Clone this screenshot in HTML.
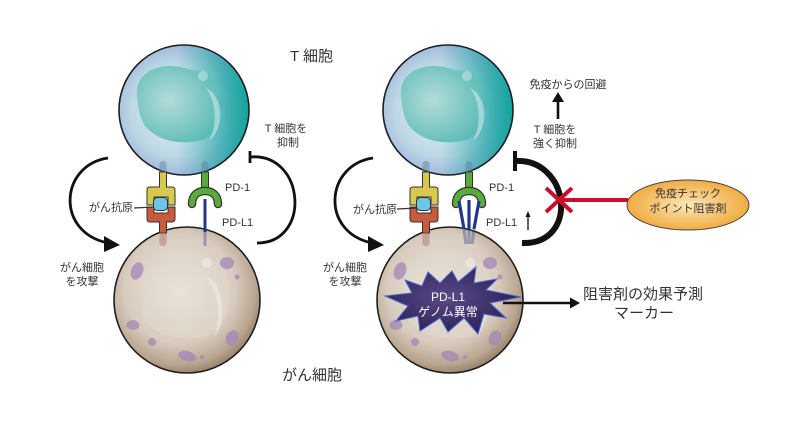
<!DOCTYPE html>
<html><head><meta charset="utf-8">
<style>
html,body{margin:0;padding:0;background:#fff;}
svg{display:block;}
text{font-family:"Liberation Sans","Noto Sans CJK JP",sans-serif;fill:#333;}
</style></head>
<body>
<svg width="800" height="432" viewBox="0 0 800 432" xmlns="http://www.w3.org/2000/svg">
<defs>
  <radialGradient id="tg" cx="45%" cy="50%" r="60%">
    <stop offset="0" stop-color="#e4f2f4"/>
    <stop offset="0.6" stop-color="#bcd7e5"/>
    <stop offset="1" stop-color="#8ea6d6"/>
  </radialGradient>
  <linearGradient id="tteal" x1="0" y1="0" x2="1" y2="0">
    <stop offset="0.45" stop-color="#0aa39b" stop-opacity="0"/>
    <stop offset="1" stop-color="#0aa39b" stop-opacity="0.95"/>
  </linearGradient>
  <radialGradient id="ng" cx="40%" cy="45%" r="65%">
    <stop offset="0" stop-color="#b4dcd9"/>
    <stop offset="1" stop-color="#5bbbb5"/>
  </radialGradient>
  <radialGradient id="cg" cx="45%" cy="42%" r="58%">
    <stop offset="0" stop-color="#ece6dd"/>
    <stop offset="0.65" stop-color="#d8ccbf"/>
    <stop offset="0.9" stop-color="#b9a590"/>
    <stop offset="1" stop-color="#9e8872"/>
  </radialGradient>
  <radialGradient id="cin" cx="45%" cy="45%" r="60%">
    <stop offset="0" stop-color="#e8e2d9"/>
    <stop offset="1" stop-color="#ddd3c7"/>
  </radialGradient>
  <radialGradient id="eg" cx="50%" cy="50%" r="55%">
    <stop offset="0" stop-color="#fde8b8"/>
    <stop offset="1" stop-color="#efa635"/>
  </radialGradient>
  <radialGradient id="sg" cx="45%" cy="45%" r="55%">
    <stop offset="0" stop-color="#5a4a88"/>
    <stop offset="1" stop-color="#2e2258"/>
  </radialGradient>

  <g id="tcell">
    <circle cx="184" cy="110" r="65" fill="url(#tg)"/>
    <circle cx="184" cy="110" r="65" fill="url(#tteal)"/>
    <path d="M137,96 C135,76 152,66 170,66 C184,66 190,71 200,71 C213,71 219,86 218,102 C217,120 221,136 198,141 C178,145 158,140 147,128 C139,119 138,106 137,96 Z" fill="url(#ng)"/>
    <path d="M206,88 C223,96 226,126 209,141 C217,125 217,103 206,88 Z" fill="#fff" opacity="0.4"/>
    <circle cx="203" cy="76" r="5" fill="#fff" opacity="0.35"/>
    <circle cx="184" cy="110" r="65" fill="none" stroke="#1e1e1e" stroke-width="1.6"/>
  </g>

  <g id="ccell">
    <circle cx="187" cy="300" r="73" fill="url(#cg)"/>
    <path d="M140,285 C140,262 165,252 190,255 C210,257 225,262 228,280 C232,300 228,330 205,337 C180,342 150,335 142,315 Z" fill="url(#cin)" opacity="0.85"/>
    <path d="M207,277 C224,285 228,320 214,338 C220,318 220,295 207,277 Z" fill="#fff" opacity="0.35"/>
    <circle cx="207" cy="263" r="5" fill="#fff" opacity="0.35"/>
    <g fill="#a487b7" opacity="0.75">
      <ellipse cx="137" cy="271" rx="6" ry="9" transform="rotate(20 137 271)"/>
      <ellipse cx="227" cy="263" rx="7" ry="6"/>
      <circle cx="237" cy="277" r="2.5"/>
      <ellipse cx="133" cy="325" rx="6.5" ry="5"/>
      <circle cx="152" cy="342" r="4"/>
      <ellipse cx="232" cy="338" rx="6" ry="8" transform="rotate(25 232 338)"/>
      <ellipse cx="187" cy="356" rx="9" ry="5" transform="rotate(15 187 356)"/>
      <circle cx="202" cy="357" r="2"/>
    </g>
    <circle cx="187" cy="300" r="73" fill="none" stroke="#1e1e1e" stroke-width="1.6"/>
  </g>

  <g id="tcr">
    <rect x="159.5" y="161" width="7" height="12" rx="3" fill="#5f7f9a" opacity="0.45"/>
    <path d="M159.5,172 L166.5,172 L166.5,187 L172,187 Q175,187 175,190 L175,205 L168,205 L168,197 L154,197 L154,205 L147,205 L147,190 Q147,187 150,187 L159.5,187 Z" fill="#d9c84e" stroke="#333" stroke-width="1"/>
    <path d="M147,207 L154,207 L154,213 L168,213 L168,207 L175,207 L175,219 Q175,222 172,222 L166.5,222 L166.5,233 L159.5,233 L159.5,222 L150,222 Q147,222 147,219 Z" fill="#c95a3c" stroke="#333" stroke-width="1"/>
    <rect x="159.5" y="232" width="7" height="14" rx="3" fill="#9c6a58" opacity="0.4"/>
    <rect x="153.5" y="197.5" width="14" height="13" rx="4" fill="#6ec6e6" stroke="#333" stroke-width="1"/>
  </g>
  <g id="pd1">
    <rect x="201.5" y="161" width="7" height="12" rx="3" fill="#5f7f9a" opacity="0.45"/>
    <rect x="201.5" y="172" width="7" height="21" fill="#5aaa3c" stroke="#333" stroke-width="1"/>
    <path d="M192,204 C192,195 198,191 205,191 C212,191 218,195 218,204" fill="none" stroke="#333" stroke-width="8.5" stroke-linecap="round"/>
    <path d="M192,204 C192,195 198,191 205,191 C212,191 218,195 218,204" fill="none" stroke="#5aaa3c" stroke-width="6" stroke-linecap="round"/>
  </g>
</defs>

<!-- LEFT PANEL -->
<use href="#tcell"/>
<use href="#ccell"/>
<use href="#tcr"/>
<use href="#pd1"/>
<line x1="205" y1="199" x2="205" y2="232" stroke="#23378a" stroke-width="3"/>
<line x1="205" y1="232" x2="205" y2="246" stroke="#23378a" stroke-width="3" opacity="0.35"/>

<!-- left arcs -->
<path d="M250,157 C305,152 312,243 257,243" fill="none" stroke="#111" stroke-width="2.8"/>
<line x1="250" y1="151" x2="250" y2="163" stroke="#111" stroke-width="2.8"/>
<path d="M108,158 C60,165 55,232 108,243" fill="none" stroke="#111" stroke-width="2.8"/>
<polygon points="120,245 104,236 104,252" fill="#111"/>

<!-- left labels -->
<text x="290" y="61" font-size="15">T 細胞</text>
<text x="286" y="132" font-size="11" text-anchor="middle">T 細胞を</text>
<text x="288" y="146" font-size="11" text-anchor="middle">抑制</text>
<text x="89" y="211" font-size="11">がん抗原</text>
<line x1="134" y1="208" x2="154" y2="207" stroke="#333" stroke-width="1.2"/>
<text x="225" y="191" font-size="11">PD-1</text>
<text x="222" y="226" font-size="11">PD-L1</text>
<text x="82" y="271" font-size="11" text-anchor="middle">がん細胞</text>
<text x="82" y="285" font-size="11" text-anchor="middle">を攻撃</text>
<text x="282" y="380" font-size="15">がん細胞</text>

<!-- RIGHT PANEL -->
<use href="#tcell" x="264"/>
<use href="#ccell" x="263"/>
<use href="#tcr" x="263"/>
<use href="#pd1" x="264"/>
<g stroke-width="3.2" fill="none">
  <path d="M459,201 L464,229" stroke="#23378a"/>
  <path d="M469,200 L469,229" stroke="#23378a"/>
  <path d="M479,201 L474,229" stroke="#23378a"/>
  <path d="M464,229 L466,244 M469,229 L469,244 M474,229 L472,244" stroke="#23378a" opacity="0.35"/>
</g>

<!-- star -->
<polygon points="385,296 412,293 405,280 422,286 428,272 440,283 452,271 458,282 476,267 474,283 497,279 486,290 521,297 490,303 506,318 484,314 478,334 464,318 448,332 440,318 420,331 418,316 396,321 408,306" fill="url(#sg)" stroke="#4a6ad0" stroke-width="1"/>
<text x="448" y="301" font-size="12" text-anchor="middle" style="fill:#fff">PD-L1</text>
<text x="448" y="316" font-size="12" text-anchor="middle" style="fill:#fff">ゲノム異常</text>

<!-- right arcs -->
<path d="M373,158 C325,165 320,232 372,243" fill="none" stroke="#111" stroke-width="2.8"/>
<polygon points="384,245 368,236 368,252" fill="#111"/>
<path d="M515,161 C570,158 580,245 522,243" fill="none" stroke="#111" stroke-width="6"/>
<line x1="515" y1="151" x2="515" y2="171" stroke="#111" stroke-width="4"/>

<!-- red inhibitor -->
<line x1="559" y1="200" x2="628" y2="200" stroke="#c8102e" stroke-width="4"/>
<line x1="546" y1="188" x2="572" y2="212" stroke="#c8102e" stroke-width="4"/>
<line x1="546" y1="212" x2="572" y2="188" stroke="#c8102e" stroke-width="4"/>
<ellipse cx="688" cy="205" rx="61" ry="25" fill="url(#eg)" stroke="#444" stroke-width="1"/>
<text x="688" y="197" font-size="11" text-anchor="middle">免疫チェック</text>
<text x="688" y="212" font-size="11" text-anchor="middle">ポイント阻害剤</text>

<!-- up arrow -->
<line x1="558" y1="119" x2="558" y2="100" stroke="#111" stroke-width="2.6"/>
<polygon points="558,92 552,102 564,102" fill="#111"/>
<text x="568" y="88" font-size="11" text-anchor="middle">免疫からの回避</text>
<text x="555" y="133" font-size="11" text-anchor="middle">T 細胞を</text>
<text x="555" y="147" font-size="11" text-anchor="middle">強く抑制</text>

<!-- right labels -->
<text x="489" y="191" font-size="11">PD-1</text>
<text x="486" y="226" font-size="11">PD-L1</text>
<line x1="528" y1="230" x2="528" y2="215" stroke="#111" stroke-width="1.3"/>
<polygon points="528,211 525.5,217 530.5,217" fill="#111"/>
<text x="353" y="213" font-size="11">がん抗原</text>
<line x1="397" y1="209" x2="417" y2="208" stroke="#333" stroke-width="1.2"/>
<text x="345" y="271" font-size="11" text-anchor="middle">がん細胞</text>
<text x="345" y="285" font-size="11" text-anchor="middle">を攻撃</text>

<!-- marker arrow -->
<line x1="503" y1="303" x2="572" y2="303" stroke="#111" stroke-width="2.6"/>
<polygon points="580,303 570,297.5 570,308.5" fill="#111"/>
<text x="643" y="299" font-size="15" text-anchor="middle">阻害剤の効果予測</text>
<text x="644" y="318" font-size="15" text-anchor="middle">マーカー</text>
</svg>
</body></html>
